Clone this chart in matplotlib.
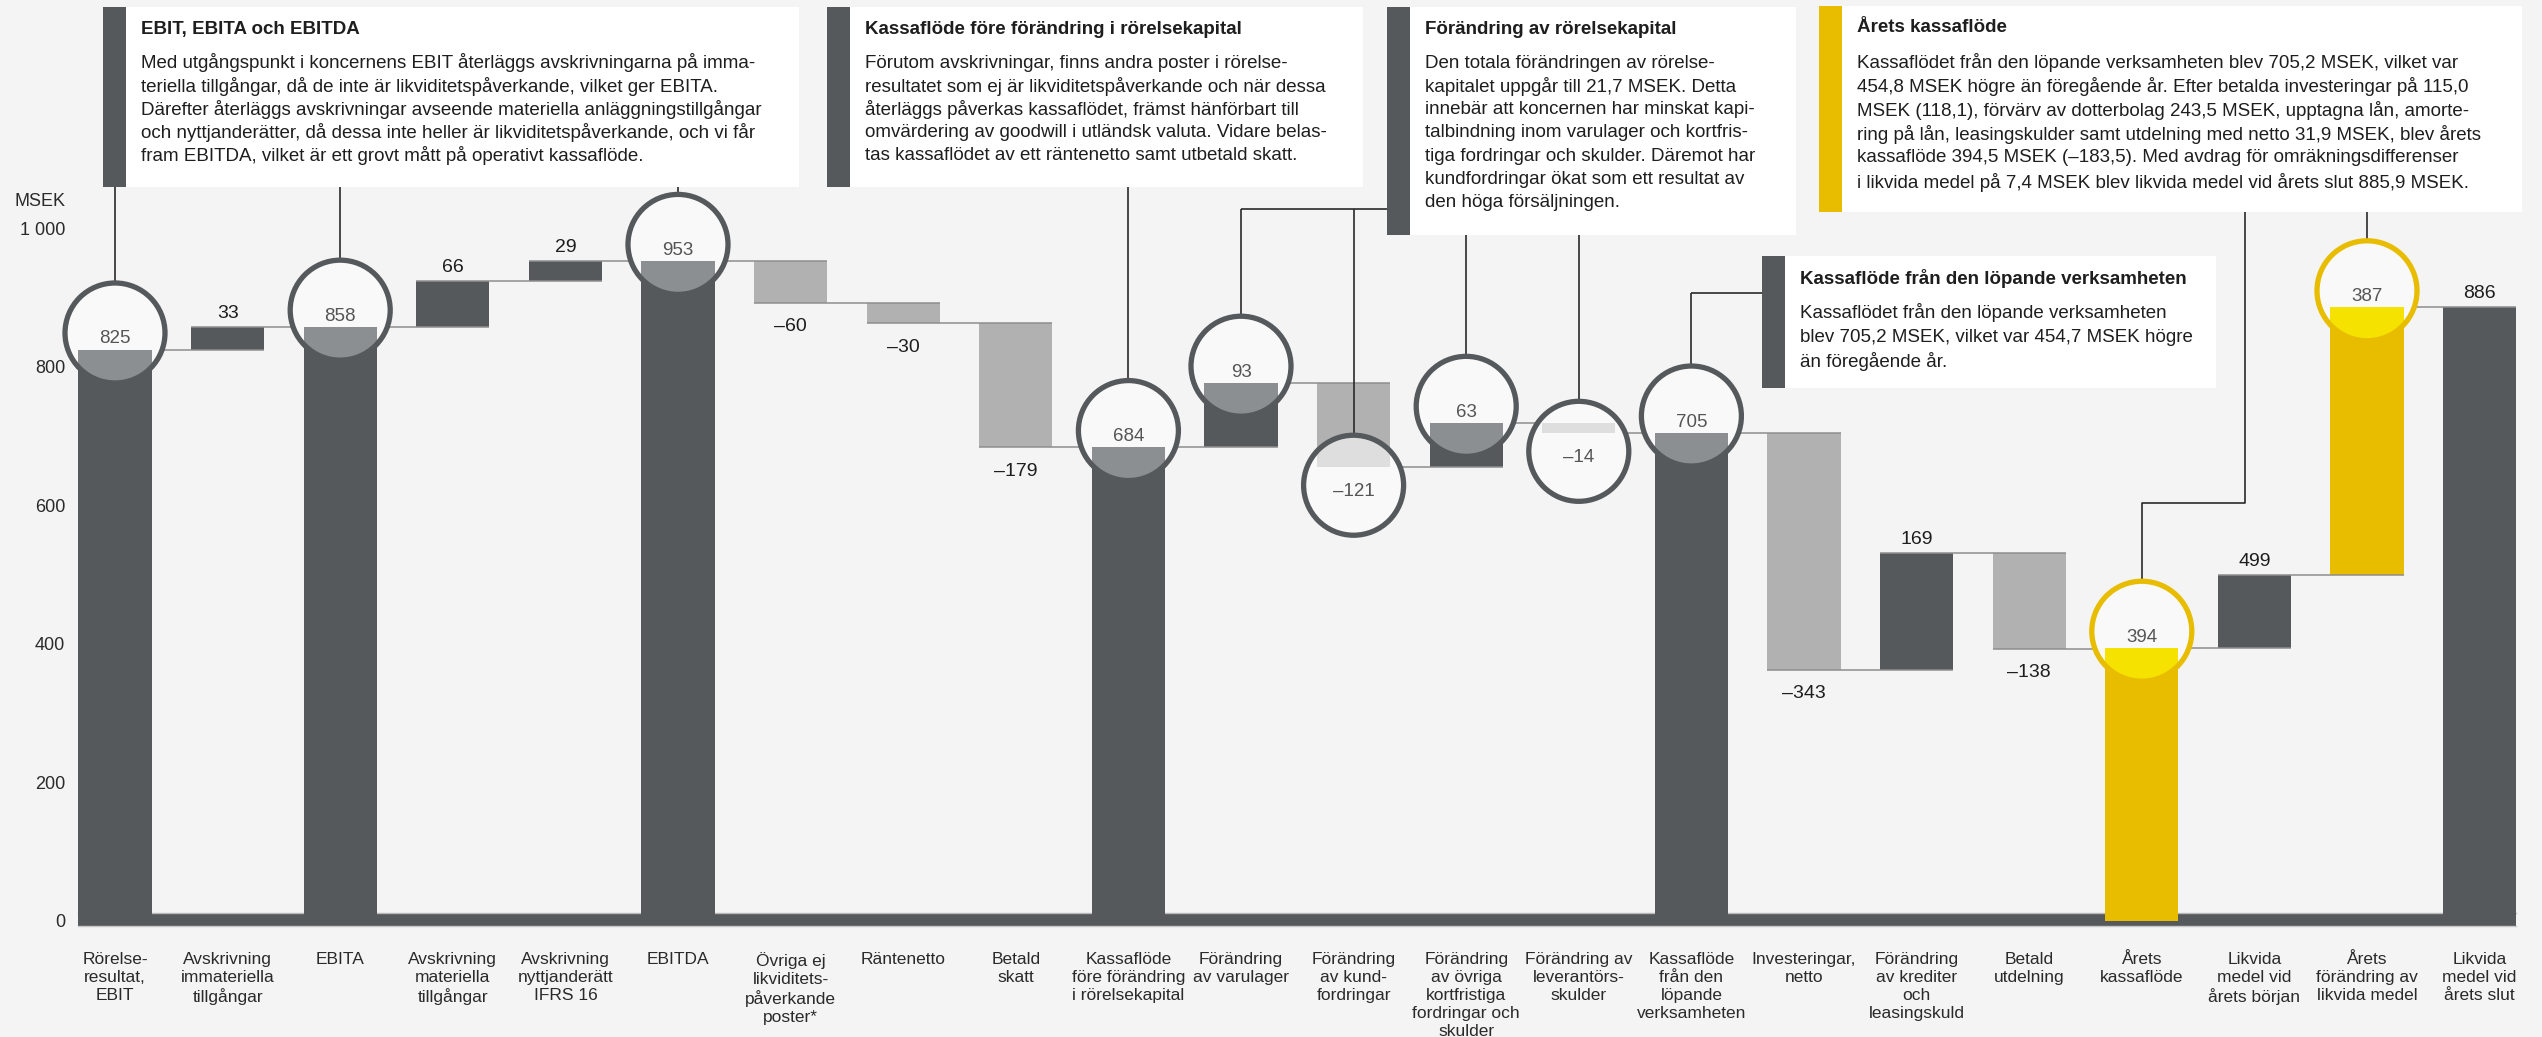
import numpy as np
import matplotlib.pyplot as plt
from matplotlib.patches import Ellipse, Rectangle

plt.rcParams['font.family'] = ['Liberation Sans', 'DejaVu Sans']

# ---- data -------------------------------------------------------------
labels = ['Rörelse-\nresultat,\nEBIT', 'Avskrivning\nimmateriella\ntillgångar', 'EBITA',
          'Avskrivning\nmateriella\ntillgångar', 'Avskrivning\nnyttjanderätt\nIFRS 16', 'EBITDA',
          'Övriga ej\nlikviditets-\npåverkande\nposter*', 'Räntenetto', 'Betald\nskatt',
          'Kassaflöde\nföre förändring\ni rörelsekapital', 'Förändring\nav varulager',
          'Förändring\nav kund-\nfordringar',
          'Förändring\nav övriga\nkortfristiga\nfordringar och\nskulder',
          'Förändring av\nleverantörs-\nskulder', 'Kassaflöde\nfrån den\nlöpande\nverksamheten',
          'Investeringar,\nnetto', 'Förändring\nav krediter\noch\nleasingskuld', 'Betald\nutdelning',
          'Årets\nkassaflöde', 'Likvida\nmedel vid\nårets början', 'Årets\nförändring av\nlikvida medel',
          'Likvida\nmedel vid\nårets slut']
values = [825, 33, 858, 66, 29, 953, -60, -30, -179, 684, 93, -121, 63, -14, 705,
          -343, 169, -138, 394, 499, 387, 886]
# t = total from zero, d = change, l = level from previous total
kinds = ['t', 'd', 't', 'd', 'd', 't', 'd', 'd', 'd', 't', 'd', 'd', 'd', 'd', 't',
         'd', 'd', 'd', 't', 'l', 'd', 't']
yellow_bars = [18, 20]
circled = [0, 2, 5, 9, 10, 11, 12, 13, 14, 18, 20]

yticks = [0, 200, 400, 600, 800, 1000]
ytick_labels = ['0', '200', '400', '600', '800', '1 000']

boxes = [
    dict(title='EBIT, EBITA och EBITDA', strip='#55595c', rect=(103, 7, 799, 187), ls=23.2,
         lines=['Med utgångspunkt i koncernens EBIT återläggs avskrivningarna på imma-',
                'teriella tillgångar, då de inte är likviditetspåverkande, vilket ger EBITA.',
                'Därefter återläggs avskrivningar avseende materiella anläggningstillgångar',
                'och nyttjanderätter, då dessa inte heller är likviditetspåverkande, och vi får',
                'fram EBITDA, vilket är ett grovt mått på operativt kassaflöde.']),
    dict(title='Kassaflöde före förändring i rörelsekapital', strip='#55595c', rect=(827, 7, 1363, 187), ls=23.2,
         lines=['Förutom avskrivningar, finns andra poster i rörelse-',
                'resultatet som ej är likviditetspåverkande och när dessa',
                'återläggs påverkas kassaflödet, främst hänförbart till',
                'omvärdering av goodwill i utländsk valuta. Vidare belas-',
                'tas kassaflödet av ett räntenetto samt utbetald skatt.']),
    dict(title='Förändring av rörelsekapital', strip='#55595c', rect=(1387, 7, 1796, 235), ls=23.3,
         lines=['Den totala förändringen av rörelse-',
                'kapitalet uppgår till 21,7 MSEK. Detta',
                'innebär att koncernen har minskat kapi-',
                'talbindning inom varulager och kortfris-',
                'tiga fordringar och skulder. Däremot har',
                'kundfordringar ökat som ett resultat av',
                'den höga försäljningen.']),
    dict(title='Årets kassaflöde', strip='#e8bd00', rect=(1819, 6, 2522, 212), ls=24,
         lines=['Kassaflödet från den löpande verksamheten blev 705,2 MSEK, vilket var',
                '454,8 MSEK högre än föregående år. Efter betalda investeringar på 115,0',
                'MSEK (118,1), förvärv av dotterbolag 243,5 MSEK, upptagna lån, amorte-',
                'ring på lån, leasingskulder samt utdelning med netto 31,9 MSEK, blev årets',
                'kassaflöde 394,5 MSEK (–183,5). Med avdrag för omräkningsdifferenser',
                'i likvida medel på 7,4 MSEK blev likvida medel vid årets slut 885,9 MSEK.']),
    dict(title='Kassaflöde från den löpande verksamheten', strip='#55595c', rect=(1762, 256, 2216, 388), ls=25,
         lines=['Kassaflödet från den löpande verksamheten',
                'blev 705,2 MSEK, vilket var 454,7 MSEK högre',
                'än föregående år.']),
]

# ---- colours ------------------------------------------------------------
BG = '#f4f4f4'
DARK, LIGHT, YEL = '#55595c', '#b1b1b1', '#e8bd00'
MAG = {DARK: '#8b8f92', LIGHT: '#dedede', YEL: '#f6e200'}
TXT = '#1e1e1e'

# ---- waterfall geometry ---------------------------------------------------
bottoms, tops, ends, colors = [], [], [], []
run = 0
for i, (v, k) in enumerate(zip(values, kinds)):
    if k == 't':
        b, e = 0, v
    elif k == 'l':
        b, e = run, v
    else:
        b, e = run, run + v
    bottoms.append(min(b, e))
    tops.append(max(b, e))
    ends.append(e)
    run = e
    if i in yellow_bars:
        colors.append(YEL)
    elif k == 'd' and v < 0:
        colors.append(LIGHT)
    else:
        colors.append(DARK)
bottoms, tops = np.array(bottoms), np.array(tops)

# ---- figure / axes in pixel terms ------------------------------------------
W, H = 2542, 1037
X0, DX = 115, 112.6      # first bar centre, bar spacing (px)
Y0, SY = 920.5, 0.692    # zero line (px from top), px per MSEK
AX_L, AX_R, AX_B = 75, 2530, 935

fig = plt.figure(figsize=(W / 100, H / 100), dpi=100, facecolor=BG)
ax = fig.add_axes([AX_L / W, 1 - AX_B / H, (AX_R - AX_L) / W, AX_B / H])
ax.set_xlim((AX_L - X0) / DX, (AX_R - X0) / DX)
ax.set_ylim((Y0 - AX_B) / SY, Y0 / SY)
ax.patch.set_visible(False)
for s in ax.spines.values():
    s.set_visible(False)


def dx(px):
    return (px - X0) / DX


def dy(py):
    return (Y0 - py) / SY


n = len(values)
x = np.arange(n)
BW = 0.65

ax.bar(x, tops - bottoms, bottom=bottoms, width=BW, color=colors, zorder=2)

# thick base band
ax.add_patch(Rectangle((-BW / 2, -8), n - 1 + BW, 18.5, color=DARK, zorder=1.8, lw=0))
ax.plot([-BW / 2, n - 1 + BW / 2], [10.5, 10.5], color='#b8b8b8', lw=1, zorder=1.9)
ax.plot([-BW / 2, n - 1 + BW / 2], [-8, -8], color='#c8c8c8', lw=1, zorder=1.9)

# step connectors
for i in range(n - 1):
    ax.plot([i - BW / 2, i + 1 + BW / 2], [ends[i], ends[i]], color='#8e8e8e', lw=1.1,
            zorder=3, solid_capstyle='butt')

# circles ("magnifier")
RX, RY = 50 / DX, 50 / SY
circ_top = {}
for i in circled:
    below = kinds[i] == 'd' and values[i] < 0
    cy = bottoms[i] - 27 if below else tops[i] + 24
    circ_top[i] = cy + RY
    face = Ellipse((i, cy), 2 * RX, 2 * RY, fc='#f9f9f9', ec='none', zorder=4)
    ax.add_patch(face)
    face.set_clip_on(False)
    mb = ax.bar(i, tops[i] - bottoms[i], bottom=bottoms[i], width=BW,
                color=MAG[colors[i]], zorder=5)
    for p in mb:
        p.set_clip_box(None)
        p.set_clip_path(face)
    ec = YEL if colors[i] == YEL else DARK
    ax.add_patch(Ellipse((i, cy), 2 * RX, 2 * RY, fc='none', ec=ec, lw=3.8, zorder=6,
                         clip_on=False))
    txt = str(values[i]) if values[i] >= 0 else '–' + str(abs(values[i]))
    ax.text(i, cy - 6 / SY, txt, ha='center', va='center', fontsize=13.5, color='#555555', zorder=7)

# plain value labels
for i in range(n):
    if i in circled:
        continue
    if values[i] >= 0:
        ax.text(i, tops[i] + 13, str(values[i]), ha='center', va='baseline', fontsize=14,
                color=TXT, zorder=7)
    else:
        ax.text(i, bottoms[i] - 41, '–' + str(abs(values[i])), ha='center', va='baseline',
                fontsize=14, color=TXT, zorder=7)

# lines from boxes to circles
LC, LW = '#2a2a2a', 1.2


def seg(xs, ys):
    ax.plot(xs, ys, color=LC, lw=LW, zorder=3.5, solid_capstyle='butt')


for i in [0, 2, 5]:
    seg([i, i], [dy(187), circ_top[i]])
seg([9, 9], [dy(187), circ_top[9]])
seg([10, dx(1387)], [dy(209), dy(209)])
for i in [10, 11]:
    seg([i, i], [dy(209), circ_top[i]])
for i in [12, 13]:
    seg([i, i], [dy(235), circ_top[i]])
seg([14, dx(1762)], [dy(293), dy(293)])
seg([14, 14], [dy(293), circ_top[14]])
seg([dx(2245), dx(2245), 18, 18], [dy(212), dy(503), dy(503), circ_top[18]])
seg([20, 20], [dy(212), circ_top[20]])

# axes ticks
ax.set_yticks(yticks)
ax.set_yticklabels(ytick_labels)
ax.set_xticks(x)
ax.set_xticklabels(labels, fontsize=12.5, linespacing=1.25)
ax.tick_params(axis='y', length=0, pad=7, labelsize=13, labelcolor='#2a2a2a')
ax.tick_params(axis='x', length=0, pad=12, labelcolor='#2a2a2a')
fig.text(65 / W, 1 - 201 / H, 'MSEK', ha='right', va='center', fontsize=13, color='#2a2a2a')

# annotation boxes (figure pixel positions)
for bx in boxes:
    x0, y0, x1, y1 = bx['rect']
    fig.add_artist(Rectangle((x0 / W, 1 - y1 / H), (x1 - x0) / W, (y1 - y0) / H,
                             transform=fig.transFigure, fc='white', ec='none', zorder=2))
    fig.add_artist(Rectangle((x0 / W, 1 - y1 / H), 23 / W, (y1 - y0) / H,
                             transform=fig.transFigure, fc=bx['strip'], ec='none', zorder=3))
    tx = x0 + 38
    fig.text(tx / W, 1 - (y0 + 22) / H, bx['title'], ha='left', va='center', fontsize=13.5,
             fontweight='bold', color=TXT, zorder=4)
    for k, line in enumerate(bx['lines']):
        fig.text(tx / W, 1 - (y0 + 56 + k * bx['ls']) / H, line, ha='left', va='center',
                 fontsize=13.5, color=TXT, zorder=4)

fig.savefig('out.png', dpi=100, facecolor=BG)
